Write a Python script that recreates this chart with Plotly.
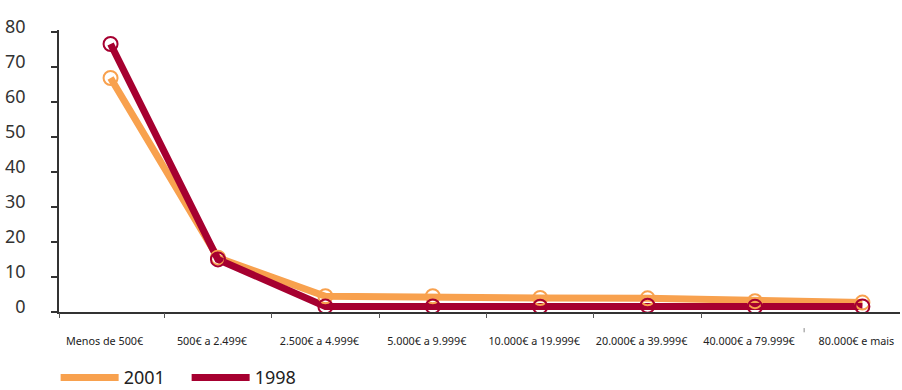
import plotly.graph_objects as go

# Income brackets (annual) and share of households (%) per survey year
categories = [
    "Menos de 500€", "500€ a 2.499€", "2.500€ a 4.999€", "5.000€ a 9.999€",
    "10.000€ a 19.999€", "20.000€ a 39.999€", "40.000€ a 79.999€", "80.000€ e mais",
]
share_2001 = [66.8, 15.5, 4.5, 4.5, 4.0, 3.9, 3.1, 2.7]
share_1998 = [76.5, 15.0, 1.6, 1.6, 1.5, 1.8, 1.5, 1.6]
y_ticks = [0, 10, 20, 30, 40, 50, 60, 70, 80]
# separator ticks between brackets (the last one is drawn detached below)
boundary_ticks = [-0.48, 0.5, 1.5, 2.5, 3.5, 4.5, 5.5]

ORANGE = "#F8A14E"
CRIMSON = "#A60030"
FONT = "Noto Sans"
X_RANGE = [-0.48, 7.35]

fig = go.Figure()

series = [("2001", share_2001, ORANGE), ("1998", share_1998, CRIMSON)]
for name, vals, col in series:
    fig.add_trace(go.Scatter(
        x=categories, y=vals, mode="lines", name=name,
        line=dict(color=col, width=7),
    ))
for name, vals, col in series:
    fig.add_trace(go.Scatter(
        x=categories, y=vals, mode="markers", showlegend=False,
        marker=dict(symbol="circle-open", size=14, color=col,
                    line=dict(color=col, width=2)),
    ))
# empty trace so the overlaid separator-tick axis is rendered
fig.add_trace(go.Scatter(x=[], y=[], xaxis="x2", yaxis="y",
                         showlegend=False, hoverinfo="skip"))

fig.update_layout(
    width=902, height=390,
    margin=dict(l=59, r=2, t=30, b=78, autoexpand=False),
    paper_bgcolor="white", plot_bgcolor="white",
    font=dict(family=FONT, color="#333333"),
    showlegend=True,
    legend=dict(
        orientation="h", xref="paper", yref="paper",
        x=-0.004, y=-0.233, xanchor="left", yanchor="middle",
        font=dict(size=18, color="#222222"), itemwidth=58,
        entrywidth=58, entrywidthmode="pixels",
        tracegroupgap=0, bgcolor="rgba(0,0,0,0)",
    ),
    # stray tick mark below the last bracket boundary
    shapes=[dict(type="line", xref="paper", yref="paper",
                 x0=0.886, x1=0.886, y0=-0.057, y1=-0.072,
                 line=dict(color="#888888", width=1))],
    xaxis=dict(
        type="category", range=X_RANGE, ticks="",
        showline=True, linecolor="#333333", linewidth=1.5,
        tickfont=dict(size=10.8, color="#222222"), ticklabelstandoff=18,
        ticklabelshift=-6,
        showgrid=False, zeroline=False,
    ),
    xaxis2=dict(
        overlaying="x", anchor="y", side="bottom", type="linear",
        range=X_RANGE, tickvals=boundary_ticks, showticklabels=False,
        ticks="outside", ticklen=5, tickcolor="#555555", tickwidth=1,
        showgrid=False, zeroline=False, showline=False,
    ),
)

fig.update_yaxes(
    range=[0, 80.5], tickvals=y_ticks,
    showline=True, linecolor="#333333", linewidth=1.5,
    ticks="outside", ticklen=6, tickcolor="#333333", tickwidth=1.5,
    tickfont=dict(size=18, color="#333333"), ticklabelstandoff=22,
    ticklabelshift=-5,
    showgrid=False, zeroline=False,
)

fig.write_html("out.html")
